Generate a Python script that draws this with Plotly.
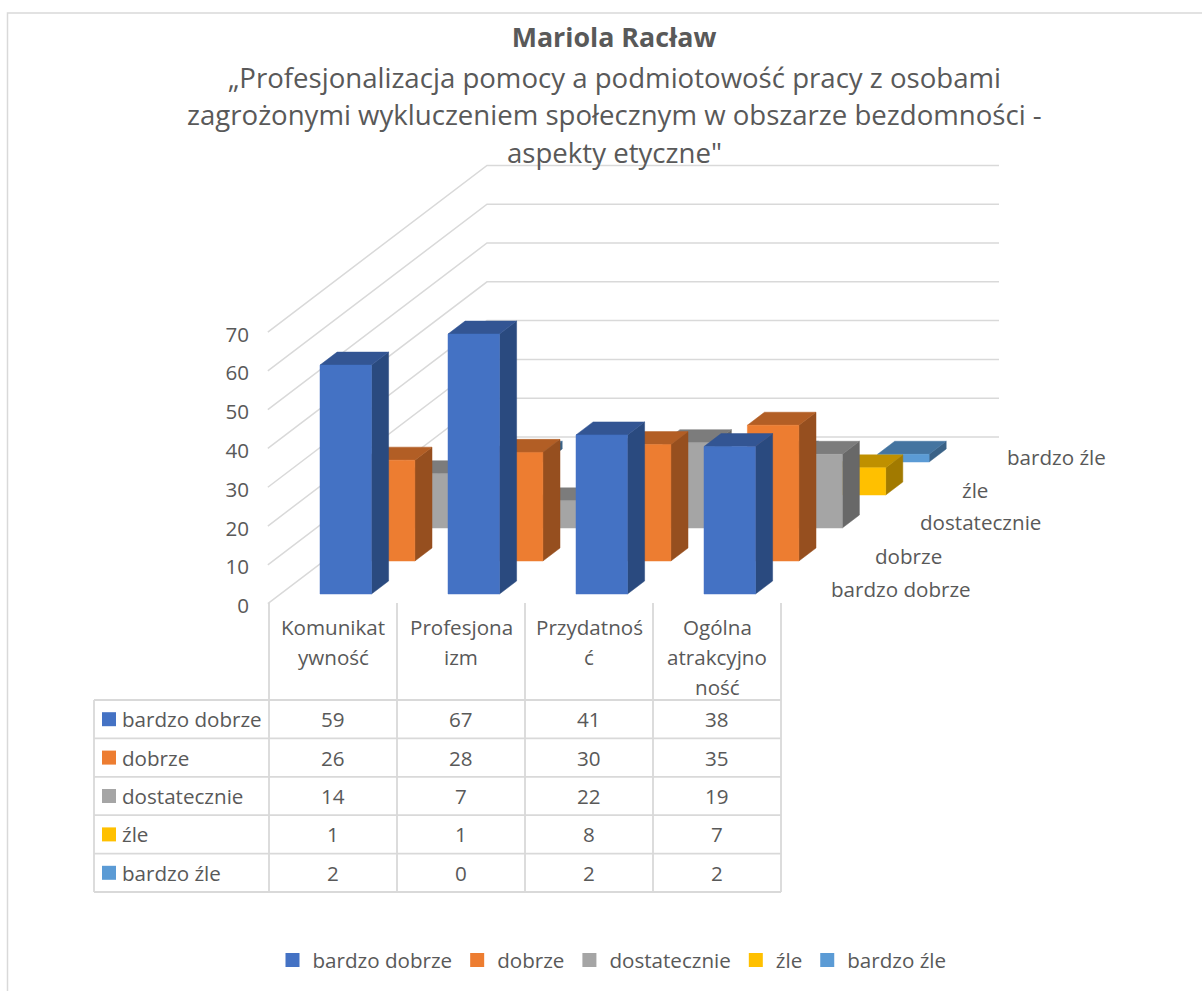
import plotly.graph_objects as go

# ---------- data ----------
series_names = ["bardzo dobrze", "dobrze", "dostatecznie", "źle", "bardzo źle"]
category_lines = [["Komunikat", "ywność"], ["Profesjona", "izm"], ["Przydatnoś", "ć"], ["Ogólna", "atrakcyjno", "ność"]]
bardzo_dobrze = [59, 67, 41, 38]
dobrze = [26, 28, 30, 35]
dostatecznie = [14, 7, 22, 19]
zle = [1, 1, 8, 7]
bardzo_zle = [2, 0, 2, 2]
series_values = [bardzo_dobrze, dobrze, dostatecznie, zle, bardzo_zle]
y_ticks = [0, 10, 20, 30, 40, 50, 60, 70]
front_colors = ["#4472C4", "#ED7D31", "#A5A5A5", "#FFC000", "#5B9BD5"]
top_colors = ["#335593", "#B25E25", "#7C7C7C", "#BF9000", "#4474A0"]
side_colors = ["#2A4A7F", "#964F1F", "#686868", "#A27A00", "#3A6287"]
title_main = "Mariola Racław"
title_lines = ["„Profesjonalizacja pomocy a podmiotowość pracy z osobami",
               "zagrożonymi wykluczeniem społecznym w obszarze bezdomności -",
               "aspekty etyczne\""]

# ---------- layout constants ----------
W, H = 1202, 991
PX_CAT, PX_VAL = 128.0, 3.88
X0, Y0 = 270.0, 602.0
DEPTH_X = 43.4 / PX_CAT
DEPTH_Y = 33.0 / PX_VAL
BAR_OFF, BAR_W = 39.5 / PX_CAT, 51.5 / PX_CAT
D_OFF, D_W = 0.242, 0.394
TABLE_SHIFT = -1.0 / PX_CAT
TEXT = "#595959"
GRID = "#D9D9D9"
FONT = "Open Sans"
FS = 20.6


def proj(c, d, v):
    return c + d * DEPTH_X, v + d * DEPTH_Y


def dx(px):
    return (px - X0) / PX_CAT


def dy(py):
    return (Y0 - py) / PX_VAL


def poly(points):
    xs, ys = [], []
    for p in points:
        x, y = proj(*p)
        xs.append(x)
        ys.append(y)
    xs += [xs[0], None]
    ys += [ys[0], None]
    return xs, ys


fig = go.Figure()

# walls
gx, gy = [], []
for v in y_ticks:
    for p in [(0, -0.05, v), (0, 5, v), (4, 5, v)]:
        x, y = proj(*p)
        gx.append(x)
        gy.append(y)
    gx.append(None)
    gy.append(None)
fig.add_trace(go.Scatter(x=gx, y=gy, mode="lines", line=dict(color=GRID, width=1.5),
                         showlegend=False, hoverinfo="skip"))

# bars, back to front
for s in range(4, -1, -1):
    faces = {"top": ([], []), "side": ([], []), "front": ([], [])}
    for c, v in enumerate(series_values[s]):
        c0, c1 = c + BAR_OFF, c + BAR_OFF + BAR_W
        d0, d1 = s + D_OFF, s + D_OFF + D_W
        for name, pts in [
            ("top", [(c0, d0, v), (c1, d0, v), (c1, d1, v), (c0, d1, v)]),
            ("side", [(c1, d0, 0), (c1, d1, 0), (c1, d1, v), (c1, d0, v)]),
            ("front", [(c0, d0, 0), (c1, d0, 0), (c1, d0, v), (c0, d0, v)]),
        ]:
            xs, ys = poly(pts)
            faces[name][0].extend(xs)
            faces[name][1].extend(ys)
    for name, col in [("side", side_colors[s]), ("top", top_colors[s]), ("front", front_colors[s])]:
        fig.add_trace(go.Scatter(x=faces[name][0], y=faces[name][1], mode="lines", fill="toself",
                                 fillcolor=col, line=dict(color=col, width=0.5),
                                 showlegend=False, hoverinfo="skip"))

# table grid
TOP, HEAD_BOTTOM, ROW_H, TABLE_LEFT = 603.0, 700.0, 38.4, 94.0
tx, ty = [], []
bottom = HEAD_BOTTOM + ROW_H * len(series_names)
for c in range(5):
    tx += [c + TABLE_SHIFT, c + TABLE_SHIFT, None]
    ty += [dy(TOP), dy(bottom), None]
tx += [dx(TABLE_LEFT), dx(TABLE_LEFT), None]
ty += [dy(HEAD_BOTTOM), dy(bottom), None]
for r in range(6):
    yy = dy(HEAD_BOTTOM + ROW_H * r)
    tx += [dx(TABLE_LEFT), 4 + TABLE_SHIFT, None]
    ty += [yy, yy, None]
fig.add_trace(go.Scatter(x=tx, y=ty, mode="lines", line=dict(color=GRID, width=1.8),
                         showlegend=False, hoverinfo="skip"))

# key squares in the table, which also feed the legend
for s, name in enumerate(series_names):
    fig.add_trace(go.Scatter(x=[dx(109)], y=[dy(HEAD_BOTTOM + ROW_H * (s + 0.5))], mode="markers",
                             marker=dict(symbol="square", size=14, color=front_colors[s]),
                             name=name, hoverinfo="skip"))


def note(x, y, text, size=FS, anchor="center"):
    fig.add_annotation(x=x, y=y, text=text, xref="x", yref="y", showarrow=False,
                       xanchor=anchor, yanchor="middle",
                       font=dict(family=FONT, size=size, color=TEXT))


# table text
for s, name in enumerate(series_names):
    ypos = dy(HEAD_BOTTOM + ROW_H * (s + 0.5))
    note(dx(120), ypos, name, anchor="left")
    for c, v in enumerate(series_values[s]):
        note(c + 0.5 + TABLE_SHIFT, ypos, str(v))
for c, lines in enumerate(category_lines):
    for i, line in enumerate(lines):
        note(c + 0.5 + TABLE_SHIFT, dy(627 + 30 * i), line)

# depth-axis labels
depth_label_pos = [(901, 589), (908, 556), (980.5, 522), (975, 490), (1056, 457)]
for name, (px, py) in zip(series_names, depth_label_pos):
    note(dx(px), dy(py), name)

# subtitle lines
for py, line in zip([77, 114, 152], title_lines):
    note(dx(614), dy(py), line, size=27.6)

# frame: top and left edges only reach the picture's edge
fx = [dx(7.5), dx(7.5), dx(W)]
fy = [dy(H), dy(13), dy(13)]
fig.add_trace(go.Scatter(x=fx, y=fy, mode="lines", line=dict(color=GRID, width=1.5),
                         showlegend=False, hoverinfo="skip"))

fig.update_layout(
    width=W, height=H, margin=dict(l=0, r=0, t=0, b=0),
    paper_bgcolor="white", plot_bgcolor="white",
    font=dict(family=FONT, size=FS, color=TEXT),
    title=dict(text="<b>" + title_main + "</b>", x=614 / W, y=1 - 38 / H, xanchor="center", yanchor="middle",
               font=dict(family=FONT, size=26.8, color=TEXT)),
    xaxis=dict(range=[dx(0), dx(W)], visible=False, fixedrange=True),
    yaxis=dict(range=[dy(H), dy(0)], tickmode="array", tickvals=y_ticks, ticktext=[str(t) for t in y_ticks],
               anchor="free", position=249 / W, showgrid=False, zeroline=False, showline=False, ticks="",
               ticklabelshift=4,
               tickfont=dict(family=FONT, size=FS, color=TEXT), fixedrange=True),
    legend=dict(orientation="h", x=612 / W, y=1 - 960 / H, xanchor="center", yanchor="middle",
                font=dict(family=FONT, size=FS, color=TEXT), bgcolor="rgba(0,0,0,0)"),
)

fig.write_html("out.html", post_script="document.body.style.margin='0';", config=dict(displayModeBar=False))
